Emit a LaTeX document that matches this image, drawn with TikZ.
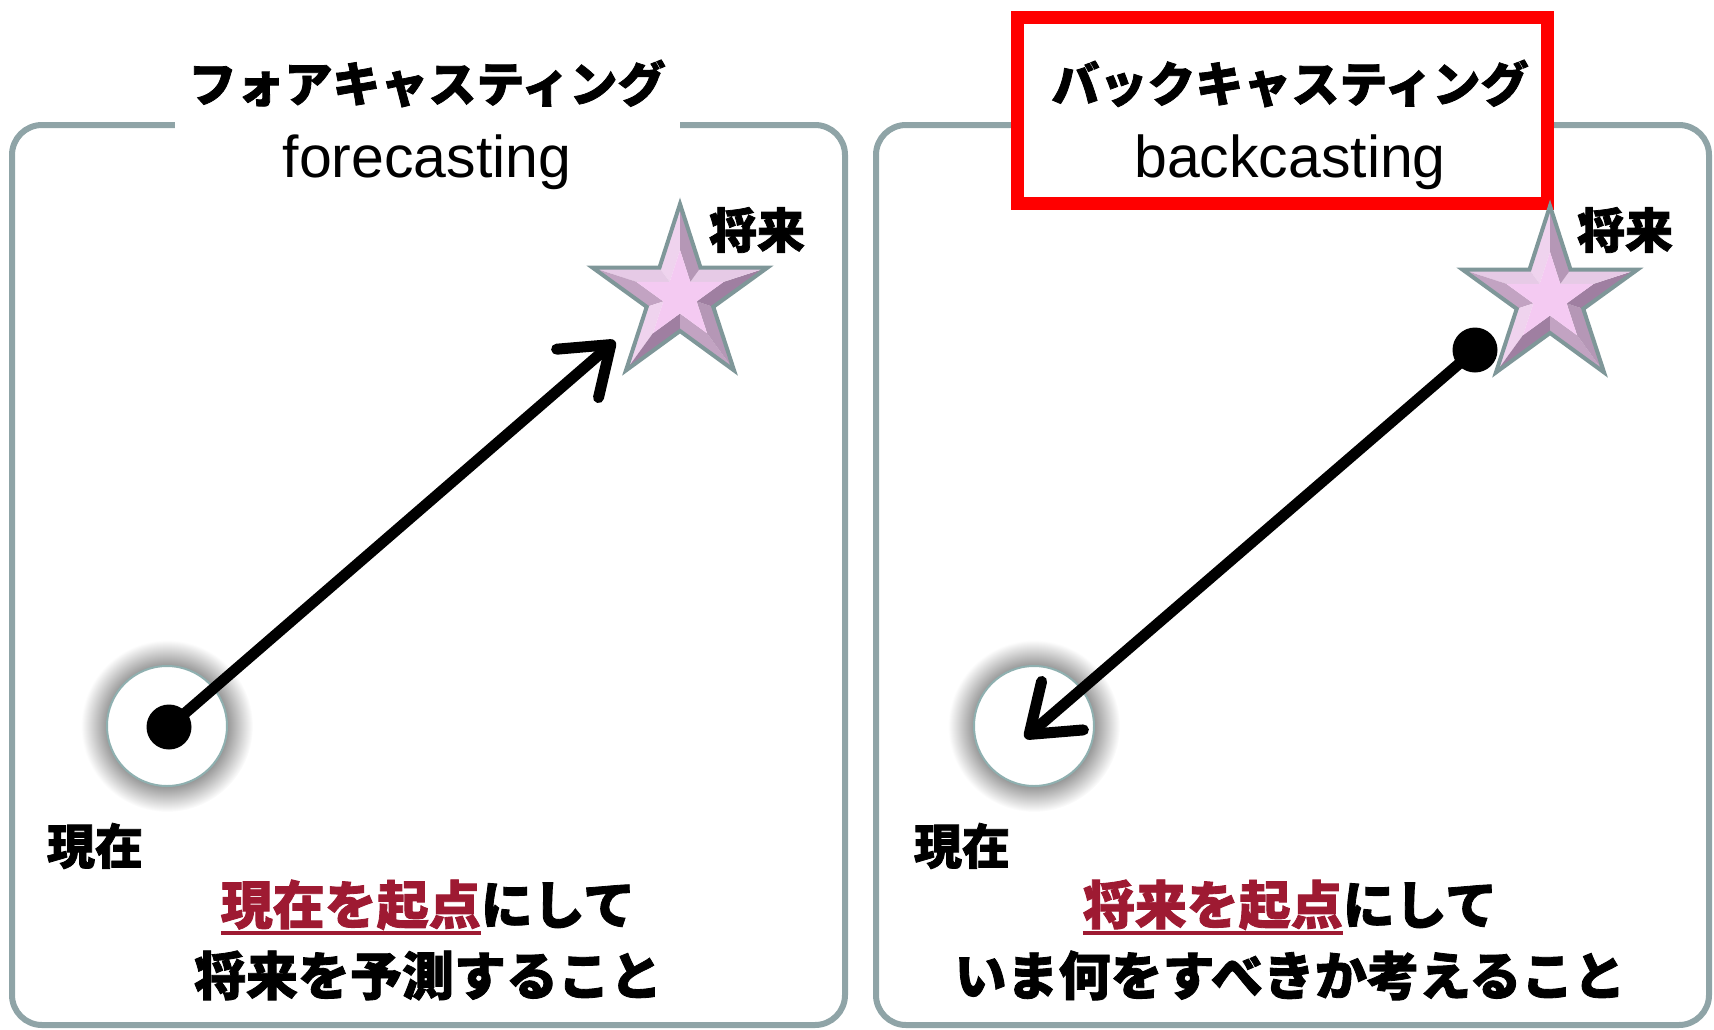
\documentclass[tikz,border=0pt]{standalone}
\usepackage{fontspec}
\setmainfont{Liberation Sans}
\newfontfamily\jp{Noto Sans CJK JP}[BoldFeatures={FakeBold=1.6}]
\usetikzlibrary{arrows.meta}

\definecolor{panelgray}{HTML}{8FA4A7}
\definecolor{halogray}{HTML}{8A8A8A}
\definecolor{ringteal}{HTML}{8FB0B0}
\definecolor{dred}{HTML}{9E1A32}
\definecolor{boxred}{HTML}{FF0000}
\definecolor{starpale}{HTML}{F4CAF2}
\definecolor{starlight}{HTML}{F8DDF7}
\definecolor{stardark}{HTML}{9A7A9C}
\definecolor{starline}{HTML}{7F9799}

\newcommand\redul[1]{\sbox0{#1}\rlap{\usebox0}\rule[-11pt]{\wd0}{4pt}}

\pgfdeclareradialshading{halo}{\pgfpoint{0bp}{0bp}}{color(0bp)=(halogray); color(16.5bp)=(halogray); color(25bp)=(white); color(50bp)=(white)}

\begin{document}
\begin{tikzpicture}[x=1pt,y=-1pt,
    panel/.style={draw=panelgray,line width=6pt,rounded corners=30pt},
    title node/.style={fill=white,align=center,inner sep=0pt,minimum width=505pt,minimum height=150pt},
    red box/.style={draw=boxred,fill=white,line width=13pt,minimum width=530pt,minimum height=186pt},
    jp head/.style={font=\jp\bfseries\fontsize{48}{58}\selectfont},
    jp note/.style={font=\jp\bfseries\fontsize{52}{71}\selectfont,align=center},
    ring/.style={circle,fill=white,draw=ringteal,line width=2pt,minimum size=120pt,inner sep=0pt},
    dot/.style={circle,fill=black,minimum size=45pt,inner sep=0pt},
    arrow line/.style={line width=11pt,line cap=round,-{Straight Barb[round,length=44pt,width=64pt]}}]

  \useasboundingbox (0,0) rectangle (1714,1029);

  % panels
  \draw[panel] (12,125) rectangle (845,1025);
  \draw[panel] (876,125) rectangle (1709,1025);

  % titles
  \node[title node] (fc) at (427,125)
    {{\jp\bfseries\fontsize{48}{58}\selectfont フォアキャスティング}\\[27pt]
     {\fontsize{59}{62}\selectfont forecasting}};
  \node[red box] (bcbox) at (1282,110) {};
  \node[align=center,inner sep=0pt] (bc) at (1290,125)
    {{\jp\bfseries\fontsize{48}{58}\selectfont バックキャスティング}\\[27pt]
     {\fontsize{59}{62}\selectfont backcasting}};

  % present circles
  \foreach \cx in {167,1034}{
    \shade[shading=halo] (\cx,726) circle (86);
  }
  \node[ring] (nowL) at (167,726) {};
  \node[ring] (nowR) at (1034,726) {};

  % future stars
  \foreach \cx/\cy in {680/296,1550/298}{
    \foreach \k in {0,...,9}{
      \pgfmathsetmacro\aa{90+36*\k}
      \pgfmathsetmacro\ab{126+36*\k}
      \pgfmathsetmacro\ra{mod(\k,2)==0 ? 92 : 35}
      \pgfmathsetmacro\rb{mod(\k,2)==0 ? 35 : 92}
      \pgfmathsetmacro\nn{mod(\k,2)==0 ? 162+36*\k : 54+36*\k}
      \pgfmathtruncatemacro\mix{50+45*cos(\nn-135)}
      \fill[starlight!\mix!stardark]
        ({\cx+\ra*cos(\aa)},{\cy-\ra*sin(\aa)}) -- ({\cx+\rb*cos(\ab)},{\cy-\rb*sin(\ab)})
        -- ({\cx+0.5*\rb*cos(\ab)},{\cy-0.5*\rb*sin(\ab)}) -- ({\cx+0.5*\ra*cos(\aa)},{\cy-0.5*\ra*sin(\aa)}) -- cycle;
    }
    \fill[starpale] plot[samples at={0,...,9},variable=\k]
      ({\cx+0.5*(mod(\k,2)==0 ? 92 : 35)*cos(90+36*\k)},{\cy-0.5*(mod(\k,2)==0 ? 92 : 35)*sin(90+36*\k)}) -- cycle;
    \draw[starline,line width=4pt,line join=miter] plot[samples at={0,...,9},variable=\k]
      ({\cx+(mod(\k,2)==0 ? 92 : 35)*cos(90+36*\k)},{\cy-(mod(\k,2)==0 ? 92 : 35)*sin(90+36*\k)}) -- cycle;
  }

  % arrows
  \node[dot] (dotL) at (169,727) {};
  \coordinate (tipL) at (615,341);
  \draw[arrow line] (dotL.center) -- (tipL);

  \node[dot] (dotR) at (1475,350) {};
  \coordinate (tipR) at (1025,738);
  \draw[arrow line] (dotR.center) -- (tipR);

  % labels
  \node[jp head] (futL) at (757,230) {将来};
  \node[jp head] (futR) at (1625,230) {将来};
  \node[jp head] (preL) at (95,846) {現在};
  \node[jp head] (preR) at (962,846) {現在};

  \node[jp note] (noteL) at (428,940)
    {\textcolor{dred}{\redul{現在を起点}}にして\\将来を予測すること};
  \node[jp note] (noteR) at (1290,940)
    {\textcolor{dred}{\redul{将来を起点}}にして\\いま何をすべきか考えること};

\end{tikzpicture}
\end{document}
